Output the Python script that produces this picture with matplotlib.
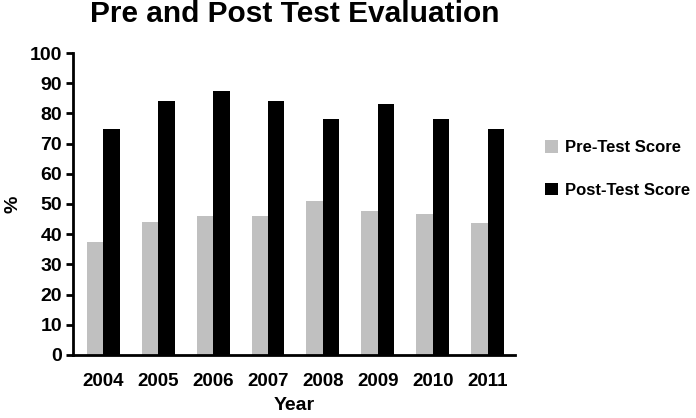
import matplotlib
matplotlib.use("Agg")
import matplotlib.pyplot as plt
import numpy as np

years = ["2004", "2005", "2006", "2007", "2008", "2009", "2010", "2011"]
pre_scores = [37.5, 44, 46, 46, 51, 47.7, 46.7, 43.7]
post_scores = [75, 84, 87.6, 84, 78.3, 83.1, 78.1, 75]

plt.rcParams['font.family'] = ['Liberation Sans', 'DejaVu Sans']
plt.rcParams['font.weight'] = 'bold'

fig = plt.figure(figsize=(6.96, 4.18), dpi=100)
ax = fig.add_axes([0.105, 0.151, 0.635, 0.722])

x = np.arange(len(years))
w = 0.30
ax.bar(x - w/2, pre_scores, width=w, color="#C0C0C0", label="Pre-Test Score")
ax.bar(x + w/2, post_scores, width=w, color="black", label="Post-Test Score")

ax.set_xlim(-0.55, 7.5)
ax.set_ylim(0, 100)
ax.set_yticks(range(0, 101, 10))
ax.set_xticks(x)
ax.set_xticklabels(years)
for s in ["top", "right"]:
    ax.spines[s].set_visible(False)
ax.spines["left"].set_linewidth(2)
ax.spines["bottom"].set_linewidth(2)
ax.tick_params(axis="y", length=5, width=2, labelsize=14, pad=3)
ax.tick_params(axis="x", length=0, labelsize=13.5, pad=13)
for lab in ax.get_xticklabels() + ax.get_yticklabels():
    lab.set_fontweight("bold")

ax.set_ylabel("%", fontsize=14, fontweight="bold", labelpad=6)
ax.set_xlabel("Year", fontsize=14, fontweight="bold", labelpad=5)
fig.suptitle("Pre and Post Test Evaluation", x=0.424, y=1.0, fontsize=21.5, fontweight="bold")

leg = fig.legend(loc="upper left", bbox_to_anchor=(0.762, 0.70), frameon=False,
                 handlelength=0.75, handleheight=0.75, handletextpad=0.45,
                 labelspacing=1.65, prop={"size": 12, "weight": "bold"})

fig.savefig("out.png", dpi=100)
